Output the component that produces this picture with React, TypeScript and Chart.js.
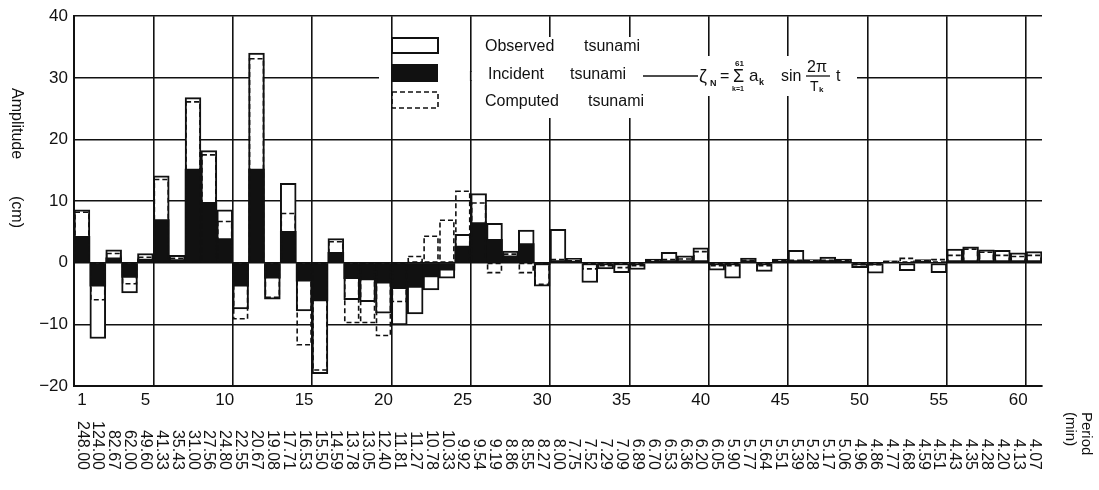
import React, { useEffect, useRef } from 'react';
import { Chart, registerables } from 'chart.js';

Chart.register(...registerables);

const categories = [
  '1','2','3','4','5','6','7','8','9','10','11','12','13','14','15','16','17','18','19','20',
  '21','22','23','24','25','26','27','28','29','30','31','32','33','34','35','36','37','38','39','40',
  '41','42','43','44','45','46','47','48','49','50','51','52','53','54','55','56','57','58','59','60','61',
];

const xTickLabels = ['1','5','10','15','20','25','30','35','40','45','50','55','60'];

const yTicks = [-20, -10, 0, 10, 20, 30, 40];

const periods = [
  '248.00','124.00','82.67','62.00','49.60','41.33','35.43','31.00','27.56','24.80',
  '22.55','20.67','19.08','17.71','16.53','15.50','14.59','13.78','13.05','12.40',
  '11.81','11.27','10.78','10.33','9.92','9.54','9.19','8.86','8.55','8.27',
  '8.00','7.75','7.52','7.29','7.09','6.89','6.70','6.53','6.36','6.20',
  '6.05','5.90','5.77','5.64','5.51','5.39','5.28','5.17','5.06','4.96',
  '4.86','4.77','4.68','4.59','4.51','4.43','4.35','4.28','4.20','4.13','4.07',
];

const observed = [
  8.6, -12.3, 2.1, -4.9, 1.5, 14.1, 1.2, 26.8, 18.2, 8.6,
  -7.5, 34.0, -5.9, 12.9, -7.8, -18.0, 3.9, -6.0, -6.3, -8.2,
  -10.1, -8.3, -4.4, -2.5, 4.6, 11.2, 6.4, 1.9, 5.3, -3.8,
  5.4, 0.7, -3.2, -1.0, -1.6, -1.1, 0.6, 1.7, 1.1, 2.4,
  -1.2, -2.5, 0.75, -1.4, 0.6, 2.0, 0.5, 0.9, 0.6, -0.8,
  -1.7, 0.3, -1.3, 0.5, -1.6, 2.2, 2.6, 2.1, 2.0, 1.6, 1.8,
];

const incident = [
  4.3, -3.8, 0.8, -2.4, 0.6, 7.0, 0.5, 15.2, 9.8, 3.9,
  -3.8, 15.2, -2.5, 5.1, -3.0, -6.2, 1.7, -2.6, -2.8, -3.3,
  -4.2, -4.0, -2.3, -1.2, 2.7, 6.5, 3.8, 1.1, 3.1, -0.3,
  0, 0, 0, 0, 0, 0, 0, 0, 0, 0,
  0, 0, 0, 0, 0, 0, 0, 0, 0, 0,
  0, 0, 0, 0, 0, 0, 0, 0, 0, 0, 0,
];

const computed = [
  8.2, -6.0, 1.5, -3.4, 0.9, 13.5, 0.7, 26.1, 17.5, 6.7,
  -9.1, 33.1, -5.6, 8.0, -13.3, -17.4, 3.4, -9.7, -9.7, -11.8,
  -6.3, 1.0, 4.3, 6.9, 11.6, 9.7, -1.6, 1.4, -1.6, -3.5,
  0.5, 0.3, -1.0, -0.5, -0.8, -0.5, 0.4, 0.5, 0.6, 1.8,
  -0.5, -0.5, 0.4, -0.5, 0.3, 0.4, 0.3, 0.4, 0.3, -0.3,
  -0.3, 0.2, 0.7, 0.3, 0.5, 1.2, 2.2, 1.7, 1.2, 1.0, 1.2,
];

const FONT = '"Liberation Sans", Arial, sans-serif';
const INK = '#111';

const extrasPlugin = {
  id: 'extras',
  beforeDraw(chart: any) {
    const ctx = chart.ctx;
    ctx.save();
    ctx.fillStyle = '#fff';
    ctx.fillRect(0, 0, chart.width, chart.height);
    ctx.restore();
  },
  afterDatasetsDraw(chart: any) {
    const ctx = chart.ctx;
    const meta = chart.getDatasetMeta(1);
    ctx.save();
    ctx.setLineDash([5, 3]);
    ctx.lineWidth = 1.6;
    ctx.strokeStyle = INK;
    meta.data.forEach((bar: any) => {
      const p = bar.getProps(['x', 'y', 'base', 'width'], true);
      const left = p.x - p.width / 2 + 1;
      const top = Math.min(p.y, p.base);
      const h = Math.abs(p.base - p.y);
      ctx.strokeRect(left, top, p.width - 2, h);
    });
    ctx.restore();
  },
  afterDraw(chart: any) {
    const ctx = chart.ctx;
    const xs = chart.scales.x;
    ctx.save();

    // white patches behind legend & formula
    ctx.fillStyle = '#fff';
    ctx.fillRect(379, 72, 478, 8);
    ctx.fillRect(479, 37, 176, 81);
    ctx.fillRect(697, 56, 155, 40);
    // restore grid segment at boundary 25
    const b25 = (xs.getPixelForValue(24) + xs.getPixelForValue(25)) / 2;
    ctx.strokeStyle = INK;
    ctx.lineWidth = 1.6;
    ctx.beginPath();
    ctx.moveTo(b25, 71);
    ctx.lineTo(b25, 81);
    ctx.stroke();

    // legend boxes
    ctx.lineWidth = 2;
    ctx.strokeStyle = INK;
    ctx.strokeRect(392, 38, 46, 15);
    ctx.fillStyle = INK;
    ctx.fillRect(391, 64, 47, 18);
    ctx.save();
    ctx.setLineDash([5, 3]);
    ctx.lineWidth = 1.6;
    ctx.strokeRect(392, 92, 46, 16);
    ctx.restore();

    // legend texts
    ctx.fillStyle = INK;
    ctx.textBaseline = 'middle';
    ctx.textAlign = 'left';
    ctx.font = `16px ${FONT}`;
    ctx.fillText('Observed', 485, 47);
    ctx.fillText('tsunami', 584, 47);
    ctx.fillText('Incident', 488, 75);
    ctx.fillText('tsunami', 570, 75);
    ctx.fillText('Computed', 485, 102);
    ctx.fillText('tsunami', 588, 102);

    // arrow line
    ctx.lineWidth = 1.5;
    ctx.beginPath();
    ctx.moveTo(643, 76);
    ctx.lineTo(698, 76);
    ctx.stroke();

    // formula
    ctx.textBaseline = 'alphabetic';
    ctx.font = `18px ${FONT}`;
    ctx.fillText('ζ', 699, 82);
    ctx.font = `bold 9px ${FONT}`;
    ctx.fillText('N', 710, 86);
    ctx.font = `16px ${FONT}`;
    ctx.fillText('=', 720, 81);
    ctx.font = `bold 8px ${FONT}`;
    ctx.fillText('61', 735, 66);
    ctx.font = `18px ${FONT}`;
    ctx.fillText('Σ', 733, 82);
    ctx.font = `bold 7px ${FONT}`;
    ctx.fillText('k=1', 732, 91);
    ctx.font = `17px ${FONT}`;
    ctx.fillText('a', 749, 81);
    ctx.font = `bold 9px ${FONT}`;
    ctx.fillText('k', 759, 85);
    ctx.font = `16px ${FONT}`;
    ctx.fillText('sin', 781, 81);
    ctx.fillText('2π', 807, 72);
    ctx.lineWidth = 1.3;
    ctx.beginPath();
    ctx.moveTo(806, 76);
    ctx.lineTo(830, 76);
    ctx.stroke();
    ctx.font = `14px ${FONT}`;
    ctx.fillText('T', 810, 91);
    ctx.font = `bold 8px ${FONT}`;
    ctx.fillText('k', 819, 92);
    ctx.font = `16px ${FONT}`;
    ctx.fillText('t', 836, 81);

    // period labels (rotated clockwise, end-aligned at bottom)
    ctx.font = `16px ${FONT}`;
    ctx.textBaseline = 'middle';
    periods.forEach((lab, i) => {
      const x = xs.getPixelForValue(i);
      ctx.save();
      ctx.translate(x, 470);
      ctx.rotate(Math.PI / 2);
      ctx.textAlign = 'right';
      ctx.fillText(lab, 0, 0);
      ctx.restore();
    });

    // Period (min)
    ctx.font = `15px ${FONT}`;
    const drawDown = (t: string, x: number, y: number) => {
      ctx.save();
      ctx.translate(x, y);
      ctx.rotate(Math.PI / 2);
      ctx.textAlign = 'left';
      ctx.textBaseline = 'middle';
      ctx.fillText(t, 0, 0);
      ctx.restore();
    };
    drawDown('Period', 1086, 412);
    drawDown('(min)', 1070, 412);

    // y axis title
    ctx.font = `16px ${FONT}`;
    drawDown('Amplitude', 16, 88);
    drawDown('(cm)', 16, 196);

    ctx.restore();
  },
};

export default function App() {
  const ref = useRef<HTMLCanvasElement | null>(null);

  useEffect(() => {
    if (!ref.current) return;
    const chart = new Chart(ref.current, {
      type: 'bar',
      data: {
        labels: categories,
        datasets: [
          {
            label: 'Observed tsunami',
            data: observed,
            backgroundColor: '#fff',
            borderColor: INK,
            borderWidth: 2,
            borderSkipped: false,
            grouped: false,
            categoryPercentage: 1,
            barPercentage: 1,
            order: 3,
          },
          {
            label: 'Computed tsunami',
            data: computed,
            backgroundColor: 'rgba(0,0,0,0)',
            borderColor: 'rgba(0,0,0,0)',
            borderWidth: 0,
            grouped: false,
            categoryPercentage: 1,
            barPercentage: 1,
            order: 2,
          },
          {
            label: 'Incident tsunami',
            data: incident,
            backgroundColor: INK,
            borderWidth: 0,
            grouped: false,
            categoryPercentage: 1,
            barPercentage: 1,
            order: 1,
          },
        ] as any,
      },
      options: {
        animation: false,
        responsive: false,
        devicePixelRatio: 1,
        layout: { padding: { top: 14, right: 57, left: 0, bottom: 0 } },
        plugins: { legend: { display: false }, tooltip: { enabled: false } },
        scales: {
          x: {
            type: 'category',
            offset: true,
            grid: {
              offset: true,
              drawTicks: false,
              lineWidth: 1.6,
              color: (c: any) => (c.index % 5 === 0 || c.index === 61 ? INK : 'rgba(0,0,0,0)'),
            },
            border: { display: true, color: INK, width: 2 },
            ticks: {
              autoSkip: false,
              maxRotation: 0,
              minRotation: 0,
              padding: 4,
              color: INK,
              font: { family: FONT, size: 17 },
              callback: (_v: any, i: number) => (xTickLabels.includes(categories[i]) ? categories[i] : ''),
            },
            afterFit: (s: any) => {
              s.height = 104;
            },
          },
          y: {
            min: -20,
            max: 40,
            afterBuildTicks: (s: any) => {
              s.ticks = yTicks.map((v) => ({ value: v }));
            },
            grid: { color: INK, lineWidth: 1.6, drawTicks: false },
            border: { display: true, color: INK, width: 2 },
            ticks: {
              padding: 6,
              color: INK,
              font: { family: FONT, size: 17 },
              callback: (v: any) => (Number(v) < 0 ? '−' + Math.abs(Number(v)) : String(v)),
            },
            afterFit: (s: any) => {
              s.width = 74;
            },
          },
        },
      } as any,
      plugins: [extrasPlugin],
    });
    return () => chart.destroy();
  }, []);

  return (
    <div style={{ position: 'fixed', left: 0, top: 0, width: 1099, height: 490, background: '#fff' }}>
      <canvas ref={ref} width={1099} height={490} style={{ display: 'block', width: 1099, height: 490 }} />
    </div>
  );
}
